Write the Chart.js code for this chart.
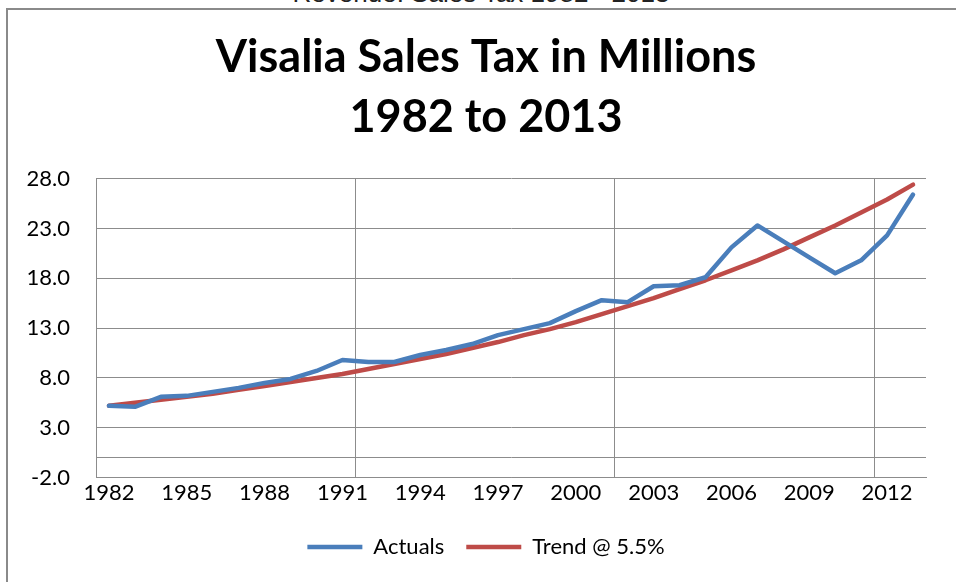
<!DOCTYPE html>
<html>
<head>
<meta charset="utf-8">
<script src="https://cdn.jsdelivr.net/npm/chart.js@4.4.1/dist/chart.umd.min.js"></script>
<style>
  html, body { margin: 0; padding: 0; background: #fff; overflow: hidden; }
  body { width: 956px; height: 582px; position: relative; }
  .sheet-title {
    position: absolute; left: 0; width: 962px; top: -22px;
    text-align: center; font: 26px "Liberation Sans", Arial, sans-serif; color: #222;
  }
  .frame {
    position: absolute; left: 6px; top: 8px; width: 980px; height: 600px;
    border-left: 2px solid #8a8a8a; border-top: 2px solid #8a8a8a;
  }
  .wrap { position: absolute; left: 0; top: 0; width: 956px; height: 582px; }
</style>
</head>
<body>
<div class="sheet-title">Revenue: Sales Tax 1982 - 2013</div>
<div class="frame"></div>
<div class="wrap"><canvas id="taxChart"></canvas></div>
<script>
// years on the category axis
const years = ['1982','1983','1984','1985','1986','1987','1988','1989','1990','1991',
               '1992','1993','1994','1995','1996','1997','1998','1999','2000','2001',
               '2002','2003','2004','2005','2006','2007','2008','2009','2010','2011',
               '2012','2013'];

// sales tax actuals, millions
const actuals = [5.2, 5.1, 6.1, 6.2, 6.6, 7.0, 7.5, 7.9, 8.7, 9.8,
                 9.6, 9.6, 10.3, 10.8, 11.4, 12.3, 12.9, 13.5, 14.7, 15.8,
                 15.6, 17.2, 17.3, 18.1, 21.1, 23.3, 21.7, 20.1, 18.5, 19.8,
                 22.3, 26.4];

// trend line at 5.5% growth
const trend = [5.2, 5.5, 5.8, 6.1, 6.4, 6.8, 7.2, 7.6, 8.0, 8.4,
               8.9, 9.4, 9.9, 10.4, 11.0, 11.6, 12.3, 12.9, 13.6, 14.4,
               15.2, 16.0, 16.9, 17.8, 18.8, 19.8, 20.9, 22.1, 23.3, 24.6,
               25.9, 27.4];

const yMin = -2, yMax = 28, yStep = 5;
const gridGray = '#8c8c8c';
const font = 'Lato';

// title and legend sit a bit right of the canvas centre in the original
const shiftBlocks = {
    id: 'shiftBlocks',
    afterLayout(chart) {
        chart.titleBlock.left += 46;
        chart.legend.left += 46;
    }
};

new Chart(document.getElementById('taxChart'), {
    type: 'line',
    data: {
        labels: years,
        datasets: [
            { label: 'Actuals', data: actuals, borderColor: '#4a7ebb', backgroundColor: '#4a7ebb',
              borderWidth: 4.5, pointRadius: 0, tension: 0, borderCapStyle: 'round', borderJoinStyle: 'round' },
            { label: 'Trend @ 5.5%', data: trend, borderColor: '#be4b48', backgroundColor: '#be4b48',
              borderWidth: 4.5, pointRadius: 0, tension: 0, borderCapStyle: 'round', borderJoinStyle: 'round' }
        ]
    },
    plugins: [shiftBlocks],
    options: {
        responsive: true,
        maintainAspectRatio: false,
        animation: false,
        layout: { padding: { left: 0, right: 30, top: 0, bottom: 14 } },
        plugins: {
            title: {
                display: true,
                text: ['Visalia Sales Tax in Millions', '1982 to 2013'],
                color: '#000',
                font: { family: font, size: 45, weight: 'bold', lineHeight: 1.34 },
                padding: { top: 27, bottom: 31 }
            },
            legend: {
                position: 'bottom',
                labels: {
                    color: '#000',
                    font: { family: font, size: 22 },
                    usePointStyle: true,
                    pointStyle: 'line',
                    pointStyleWidth: 55,
                    boxHeight: 22,
                    padding: 22
                }
            },
            tooltip: { enabled: false }
        },
        scales: {
            x: {
                offset: true,
                grid: {
                    offset: true,
                    drawTicks: false,
                    color: ctx => (ctx.index % 10 === 0 ? gridGray : 'transparent')
                },
                border: { color: gridGray },
                afterFit: scale => { scale.height += 6; },
                ticks: {
                    autoSkip: false, maxRotation: 0, padding: 2, color: '#000',
                    font: { family: font, size: 22 },
                    callback: (v, i) => (i % 3 === 0 ? years[i] : '')
                }
            },
            y: {
                min: yMin, max: yMax,
                afterBuildTicks: scale => {
                    const t = [];
                    for (let v = yMin; v <= yMax; v += yStep) t.push({ value: v });
                    t.push({ value: 0 });
                    t.sort((a, b) => a.value - b.value);
                    scale.ticks = t;
                },
                afterFit: scale => { scale.width = 96; },
                grid: { color: gridGray, drawTicks: false },
                border: { color: gridGray },
                ticks: {
                    padding: 26, color: '#000',
                    font: { family: font, size: 22 },
                    callback: v => (v === 0 ? '' : v.toFixed(1))
                }
            }
        }
    }
});
</script>
</body>
</html>
